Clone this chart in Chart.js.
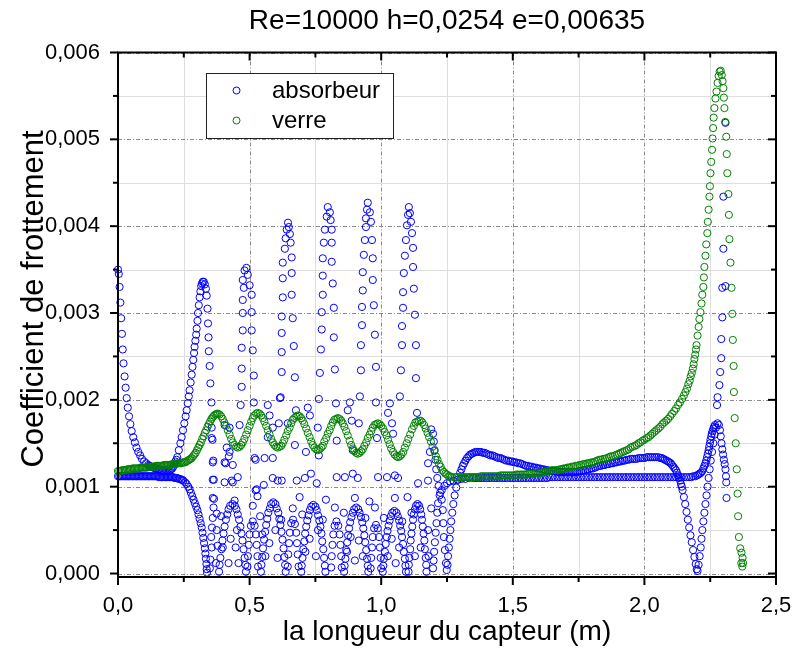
<!DOCTYPE html>
<html>
<head>
<meta charset="utf-8">
<script src="https://cdn.jsdelivr.net/npm/chart.js@4.4.1/dist/chart.umd.min.js"></script>
<style>
  html, body { margin: 0; padding: 0; background: #fff; }
  #wrap { width: 793px; height: 664px; }
</style>
</head>
<body>
<div id="wrap"><canvas id="graphe" width="793" height="664"></canvas></div>
<script>
// textes et graduations
const titre = 'Re=10000 h=0,0254 e=0,00635';
const titreX = 'la longueur du capteur (m)';
const titreY = 'Coefficient de frottement';
const xTicks = [0, 0.5, 1.0, 1.5, 2.0, 2.5];
const xMinorTicks = [0.25, 0.75, 1.25, 1.75, 2.25];
const yTicks = [0, 0.001, 0.002, 0.003, 0.004, 0.005, 0.006];
const yMinorTicks = [0.0005, 0.0015, 0.0025, 0.0035, 0.0045, 0.0055];

// absorbeur : branche haute a l'entree puis premier pic
const absEntreeHaut = [[0.000,0.00350],[0.003,0.00345],[0.006,0.00330],[0.009,0.00312],[0.012,0.00294],[0.015,0.00276],[0.018,0.00258],[0.021,0.00242],[0.025,0.00227],[0.029,0.00214],[0.033,0.00202],[0.037,0.00191],[0.042,0.00181],[0.047,0.00172],[0.052,0.00164],[0.058,0.00157],[0.064,0.00151],[0.070,0.00145],[0.077,0.00140],[0.084,0.00136],[0.091,0.00132],[0.099,0.00129],[0.107,0.00127],[0.115,0.00125],[0.124,0.00123],[0.133,0.00122],[0.142,0.00121],[0.152,0.00120],[0.162,0.00119],[0.172,0.00119],[0.182,0.00119],[0.192,0.00119],[0.202,0.00120],[0.210,0.00123],[0.218,0.00129],[0.225,0.00134],[0.231,0.00142],[0.237,0.00150],[0.242,0.00157],[0.247,0.00165],[0.252,0.00173],[0.257,0.00181],[0.261,0.00188],[0.265,0.00196],[0.269,0.00204],[0.272,0.00211],[0.276,0.00220],[0.280,0.00229],[0.283,0.00238],[0.286,0.00246],[0.289,0.00254],[0.291,0.00261],[0.294,0.00268],[0.297,0.00275],[0.299,0.00282],[0.302,0.00291],[0.304,0.00300],[0.307,0.00309],[0.310,0.00318],[0.313,0.00325],[0.316,0.00331],[0.319,0.00334],[0.322,0.00336],[0.326,0.00336],[0.330,0.00333],[0.334,0.00328],[0.337,0.00320],[0.340,0.00305],[0.342,0.00288],[0.344,0.00272],[0.345,0.00256],[0.348,0.00239],[0.351,0.00219],[0.355,0.00197],[0.359,0.00154],[0.362,0.00130],[0.364,0.00108],
  [0.120,0.00124],[0.128,0.00123],[0.137,0.00122],[0.147,0.00121],[0.157,0.00120],[0.167,0.00119],[0.177,0.00119],[0.187,0.00119],[0.197,0.00119],[0.206,0.00121],[0.214,0.00126],[0.222,0.00131]];

// absorbeur : branche basse a l'entree
const absEntreeBas = [[0.000,0.00112],[0.010,0.00112],[0.020,0.00112],[0.030,0.00112],[0.040,0.00112],[0.050,0.00112],[0.060,0.00112],[0.070,0.00112],[0.080,0.00112],[0.090,0.00112],[0.100,0.00112],[0.110,0.00112],[0.120,0.00112],[0.130,0.00112],[0.140,0.00112],[0.150,0.00112],[0.160,0.00111],[0.170,0.00111],[0.180,0.00111],[0.190,0.00111],[0.200,0.00111],[0.210,0.00111],[0.220,0.00110],[0.230,0.00109],[0.240,0.00108],[0.248,0.00107],[0.255,0.00105],[0.261,0.00103],[0.267,0.00100],[0.272,0.00097],[0.277,0.00093],[0.282,0.00089],[0.287,0.00085],[0.292,0.00081],[0.297,0.00077],[0.302,0.00073],[0.306,0.00068],[0.310,0.00063],[0.314,0.00058],[0.318,0.00053],[0.321,0.00047],[0.324,0.00041],[0.327,0.00035],[0.330,0.00029],[0.332,0.00023],[0.334,0.00017],[0.336,0.00011],[0.337,0.00005],[0.338,0.00001],
  [0.005,0.00112],[0.015,0.00112],[0.025,0.00112],[0.035,0.00112],[0.045,0.00112],[0.055,0.00112],[0.065,0.00112],[0.075,0.00112],[0.085,0.00112],[0.095,0.00112],[0.105,0.00112],[0.115,0.00112],[0.125,0.00112],[0.135,0.00112],[0.145,0.00112],[0.155,0.00111],[0.165,0.00111],[0.175,0.00111],[0.185,0.00111],[0.195,0.00111],[0.205,0.00111],[0.215,0.00110],[0.225,0.00110],[0.235,0.00109],[0.244,0.00108]];

// absorbeur : pics isoles
const absPics = [
  [0.481,0.00349],[0.474,0.00338],[0.478,0.00329],[0.474,0.00315],[0.474,0.00300],[0.474,0.00280],[0.470,0.00260],[0.470,0.00236],[0.470,0.00215],[0.466,0.00194],[0.462,0.00171],[0.488,0.00352],[0.493,0.00344],[0.500,0.00332],[0.508,0.00321],[0.508,0.00301],[0.508,0.00280],[0.512,0.00257],[0.516,0.00228],[0.516,0.00197],[0.523,0.00131],[0.527,0.00097],
  [0.646,0.00404],[0.641,0.00396],[0.637,0.00386],[0.634,0.00374],[0.626,0.00358],[0.626,0.00340],[0.626,0.00318],[0.622,0.00296],[0.622,0.00277],[0.622,0.00255],[0.622,0.00232],[0.618,0.00203],[0.649,0.00399],[0.653,0.00391],[0.656,0.00381],[0.660,0.00364],[0.660,0.00346],[0.660,0.00321],[0.664,0.00294],[0.668,0.00262],[0.672,0.00226],[0.676,0.00188],
  [0.797,0.00422],[0.793,0.00411],[0.786,0.00396],[0.782,0.00381],[0.778,0.00363],[0.778,0.00343],[0.778,0.00321],[0.774,0.00301],[0.774,0.00281],[0.771,0.00258],[0.767,0.00231],[0.763,0.00201],[0.805,0.00416],[0.808,0.00407],[0.812,0.00396],[0.812,0.00381],[0.812,0.00359],[0.816,0.00334],[0.820,0.00306],[0.820,0.00272],[0.824,0.00235],[0.828,0.00196],
  [0.949,0.00427],[0.946,0.00419],[0.942,0.00409],[0.942,0.00399],[0.938,0.00384],[0.934,0.00367],[0.930,0.00347],[0.930,0.00326],[0.927,0.00307],[0.927,0.00286],[0.923,0.00263],[0.923,0.00234],[0.919,0.00204],[0.957,0.00416],[0.961,0.00405],[0.965,0.00384],[0.968,0.00363],[0.968,0.00338],[0.972,0.00309],[0.976,0.00275],[0.980,0.00238],[0.980,0.00197],
  [1.105,0.00422],[1.102,0.00413],[1.098,0.00401],[1.094,0.00384],[1.090,0.00366],[1.086,0.00346],[1.083,0.00324],[1.083,0.00306],[1.079,0.00285],[1.079,0.00263],[1.075,0.00234],[1.071,0.00204],[1.109,0.00415],[1.113,0.00405],[1.117,0.00392],[1.121,0.00375],[1.121,0.00353],[1.124,0.00328],[1.128,0.00298],[1.132,0.00263],[1.132,0.00225],[1.136,0.00185]
];

// absorbeur : points disperses entre 0,0008 et 0,002
const absDisperses = [[0.356,0.00168],[0.356,0.00156],[0.360,0.00128],[0.360,0.00108],[0.409,0.00127],[0.405,0.00105],[0.436,0.00105],[0.436,0.00125],[0.424,0.00140],[0.424,0.00168],[0.405,0.00171],[0.413,0.00145],[0.405,0.00128],[0.421,0.00135],[0.432,0.00107],[0.455,0.00111],[0.519,0.00133],[0.523,0.00096],[0.554,0.00102],[0.557,0.00133],[0.569,0.00194],[0.576,0.00182],[0.588,0.00168],[0.569,0.00157],[0.588,0.00110],[0.607,0.00107],[0.611,0.00173],[0.615,0.00202],[0.645,0.00173],[0.672,0.00148],[0.588,0.00133],[0.622,0.00107],[0.679,0.00107],[0.710,0.00110],[0.714,0.00140],[0.729,0.00182],[0.721,0.00191],[0.733,0.00115],[0.755,0.00104],[0.759,0.00168],[0.763,0.00136],[0.831,0.00153],[0.831,0.00111],[0.862,0.00111],[0.881,0.00197],[0.873,0.00188],[0.888,0.00176],[0.892,0.00142],[0.892,0.00115],[0.911,0.00110],[0.915,0.00173],[0.984,0.00156],[0.988,0.00111],[1.022,0.00111],[1.033,0.00196],[1.026,0.00185],[1.041,0.00173],[1.045,0.00161],[1.052,0.00113],[1.064,0.00110],[1.140,0.00104],[1.178,0.00107],[1.178,0.00127],[1.185,0.00140]];

// absorbeur : arches et points proches de zero
const absArches = [
  [0.435,0.00080],[0.426,0.00078],[0.420,0.00074],[0.415,0.00068],[0.410,0.00062],[0.405,0.00054],[0.401,0.00046],[0.397,0.00038],[0.393,0.00028],[0.389,0.00018],[0.386,0.00010],[0.384,0.00002],[0.444,0.00078],[0.450,0.00074],[0.455,0.00068],[0.460,0.00062],[0.465,0.00054],[0.469,0.00046],[0.473,0.00038],[0.477,0.00028],[0.481,0.00018],[0.484,0.00010],[0.486,0.00002],
  [0.590,0.00082],[0.582,0.00080],[0.577,0.00075],[0.571,0.00070],[0.567,0.00063],[0.563,0.00056],[0.559,0.00048],[0.555,0.00039],[0.551,0.00029],[0.548,0.00019],[0.545,0.00010],[0.543,0.00002],[0.598,0.00080],[0.603,0.00075],[0.609,0.00070],[0.613,0.00063],[0.617,0.00056],[0.621,0.00048],[0.625,0.00039],[0.629,0.00029],[0.632,0.00019],[0.635,0.00010],[0.637,0.00002],
  [0.742,0.00079],[0.734,0.00077],[0.729,0.00073],[0.724,0.00067],[0.719,0.00061],[0.715,0.00054],[0.711,0.00046],[0.708,0.00037],[0.704,0.00028],[0.701,0.00018],[0.698,0.00009],[0.696,0.00002],[0.750,0.00077],[0.755,0.00073],[0.760,0.00067],[0.765,0.00061],[0.769,0.00054],[0.773,0.00046],[0.776,0.00037],[0.780,0.00028],[0.783,0.00018],[0.786,0.00009],[0.788,0.00002],
  [0.905,0.00076],[0.897,0.00074],[0.892,0.00070],[0.887,0.00065],[0.882,0.00059],[0.878,0.00052],[0.874,0.00044],[0.871,0.00036],[0.867,0.00027],[0.864,0.00017],[0.861,0.00009],[0.859,0.00002],[0.913,0.00074],[0.918,0.00070],[0.923,0.00065],[0.928,0.00059],[0.932,0.00052],[0.936,0.00044],[0.939,0.00036],[0.943,0.00027],[0.946,0.00017],[0.949,0.00009],[0.951,0.00002],
  [1.050,0.00072],[1.042,0.00070],[1.037,0.00066],[1.032,0.00061],[1.028,0.00055],[1.024,0.00049],[1.021,0.00042],[1.017,0.00034],[1.014,0.00025],[1.010,0.00017],[1.008,0.00009],[1.006,0.00002],[1.058,0.00070],[1.063,0.00066],[1.068,0.00061],[1.072,0.00055],[1.076,0.00049],[1.079,0.00042],[1.083,0.00034],[1.086,0.00025],[1.090,0.00017],[1.092,0.00009],[1.094,0.00002],
  [1.138,0.00080],[1.132,0.00078],[1.128,0.00074],[1.124,0.00068],[1.121,0.00062],[1.118,0.00054],[1.115,0.00046],[1.112,0.00038],[1.110,0.00028],[1.107,0.00018],[1.105,0.00010],[1.104,0.00002],[1.144,0.00078],[1.148,0.00074],[1.152,0.00068],[1.155,0.00062],[1.158,0.00054],[1.161,0.00046],[1.164,0.00038],[1.166,0.00028],[1.169,0.00018],[1.171,0.00010],[1.172,0.00002],
  [0.505,0.00055],[0.500,0.00045],[0.497,0.00033],[0.494,0.00020],[0.492,0.00008],[0.512,0.00060],[0.519,0.00055],[0.524,0.00045],[0.527,0.00033],[0.530,0.00020],[0.532,0.00008],
  [0.658,0.00058],[0.653,0.00047],[0.650,0.00035],[0.647,0.00022],[0.645,0.00008],[0.665,0.00062],[0.672,0.00057],[0.677,0.00047],[0.680,0.00035],[0.683,0.00022],[0.686,0.00008],
  [0.823,0.00055],[0.818,0.00045],[0.815,0.00033],[0.812,0.00020],[0.810,0.00007],[0.830,0.00060],[0.837,0.00055],[0.842,0.00045],[0.845,0.00033],[0.848,0.00020],[0.850,0.00007],
  [0.973,0.00052],[0.968,0.00042],[0.965,0.00030],[0.962,0.00018],[0.960,0.00006],[0.980,0.00056],[0.987,0.00052],[0.992,0.00042],[0.995,0.00030],[0.998,0.00018],[1.000,0.00006],
  [0.365,0.00086],[0.363,0.00076],[0.360,0.00064],[0.357,0.00053],[0.354,0.00042],[0.356,0.00030],[0.351,0.00016],[0.349,0.00006],[0.375,0.00069],[0.375,0.00050],[0.378,0.00032],[0.372,0.00012],
  [0.360,0.00087],[0.443,0.00084],[0.512,0.00078],[0.664,0.00075],[0.824,0.00076],[0.900,0.00087],[0.976,0.00076],[1.052,0.00087],[0.530,0.00089],[0.690,0.00088],[0.790,0.00085],[0.955,0.00083],[1.100,0.00088]
];

// absorbeur : autres points du nuage bas
const absFond = [[0.392,0.00066],[0.398,0.00030],[0.420,0.00012],[0.428,0.00040],[0.447,0.00030],[0.458,0.00012],[0.452,0.00050],
  [0.540,0.00066],[0.548,0.00045],[0.560,0.00020],[0.575,0.00035],[0.598,0.00050],[0.606,0.00018],[0.620,0.00062],
  [0.700,0.00068],[0.712,0.00025],[0.728,0.00040],[0.752,0.00020],[0.760,0.00050],[0.778,0.00062],
  [0.858,0.00070],[0.870,0.00025],[0.884,0.00042],[0.900,0.00015],[0.915,0.00038],[0.930,0.00020],[0.940,0.00064],
  [1.010,0.00064],[1.025,0.00020],[1.040,0.00040],[1.055,0.00012],[1.068,0.00030],[1.080,0.00060],
  [1.115,0.00070],[1.128,0.00020],[1.150,0.00030],[1.178,0.00050],[1.180,0.00020],[1.190,0.00075]];

// absorbeur : sortie de la zone perturbee
const absTransition = [[1.190,0.00166],[1.197,0.00161],[1.200,0.00152],[1.203,0.00142],[1.206,0.00131],[1.209,0.00120],[1.213,0.00110],[1.218,0.00101],[1.224,0.00093],[1.230,0.00085],[1.234,0.00073],[1.236,0.00058],[1.238,0.00042],[1.242,0.00027],[1.246,0.00012],[1.249,0.00004],
  [1.197,0.00006],[1.199,0.00015],[1.201,0.00025],[1.204,0.00036],[1.207,0.00047],[1.210,0.00058],[1.213,0.00070],[1.216,0.00081],[1.222,0.00090],[1.230,0.00096],[1.240,0.00101],[1.250,0.00104],[1.262,0.00106]];

// absorbeur : courbe haute apres 1,25 m
const absCourbeHaute = [[1.252,0.00010],[1.254,0.00020],[1.257,0.00030],[1.260,0.00040],[1.263,0.00050],[1.266,0.00060],[1.270,0.00070],[1.274,0.00080],[1.279,0.00090],[1.285,0.00099],[1.292,0.00108],[1.300,0.00116],[1.310,0.00124],[1.320,0.00130],[1.332,0.00135],[1.345,0.00138],[1.358,0.00140],[1.372,0.00140],[1.386,0.00139],[1.400,0.00138],[1.415,0.00136],[1.430,0.00135],[1.445,0.00133],[1.460,0.00132],[1.475,0.00130],[1.490,0.00129],[1.505,0.00128],[1.520,0.00127],[1.535,0.00126],[1.550,0.00124],[1.565,0.00123],[1.580,0.00122],[1.595,0.00121],[1.610,0.00120],[1.625,0.00119],[1.640,0.00118],[1.655,0.00118],[1.670,0.00117],[1.685,0.00117],[1.700,0.00117],[1.715,0.00117],[1.730,0.00117],[1.745,0.00117],[1.760,0.00118],[1.775,0.00119],[1.790,0.00120],[1.805,0.00121],[1.820,0.00123],[1.835,0.00124],[1.850,0.00125],[1.865,0.00126],[1.880,0.00127],[1.895,0.00128],[1.910,0.00129],[1.925,0.00130],[1.940,0.00131],[1.955,0.00132],[1.970,0.00132],[1.985,0.00133],[2.000,0.00133],[2.015,0.00134],[2.030,0.00134],[2.045,0.00134],[2.060,0.00133],[2.072,0.00132],[2.084,0.00130],[2.095,0.00128],[2.105,0.00125],[2.115,0.00121],[2.124,0.00116],[2.132,0.00110],[2.139,0.00103],[2.145,0.00096],[2.150,0.00088],[2.155,0.00080],[2.160,0.00071],[2.165,0.00062],[2.170,0.00053],[2.175,0.00044],[2.180,0.00036],[2.185,0.00027],[2.190,0.00019],[2.195,0.00011],[2.199,0.00005],[2.202,0.00003],[2.206,0.00010],[2.210,0.00020],[2.214,0.00030],[2.217,0.00040],[2.220,0.00050],[2.224,0.00060],[2.228,0.00070],[2.232,0.00080],[2.236,0.00090],[2.240,0.00100],[2.244,0.00110],[2.248,0.00120],[2.252,0.00130],[2.257,0.00140],[2.262,0.00150],[2.267,0.00160],[2.272,0.00168],[2.278,0.00173],[2.283,0.00171],[2.287,0.00165],[2.290,0.00158],[2.293,0.00150],[2.296,0.00143],[2.299,0.00137],[2.302,0.00131],[2.305,0.00126],[2.308,0.00120],[2.310,0.00112],[2.311,0.00105],[2.312,0.00087],
  [1.305,0.00120],[1.315,0.00127],[1.326,0.00133],[1.338,0.00137],[1.351,0.00139],[1.365,0.00140],[1.379,0.00140],[1.393,0.00139],[1.408,0.00137],[1.423,0.00136],[1.438,0.00134],[1.453,0.00133],[1.468,0.00131],[1.483,0.00130],[1.498,0.00129],[1.513,0.00128],[1.528,0.00127],[1.543,0.00125],[1.558,0.00124],[1.573,0.00123],[1.588,0.00122],[1.603,0.00121],[1.618,0.00120],[1.633,0.00119],[1.648,0.00118],[1.663,0.00118],[1.678,0.00117],[1.693,0.00117],[1.708,0.00117],[1.723,0.00117],[1.738,0.00117],[1.753,0.00118],[1.768,0.00119],[1.783,0.00120],[1.798,0.00121],[1.813,0.00122],[1.828,0.00124],[1.843,0.00125],[1.858,0.00126],[1.873,0.00127],[1.888,0.00128],[1.903,0.00129],[1.918,0.00130],[1.933,0.00131],[1.948,0.00132],[1.963,0.00132],[1.978,0.00133],[1.993,0.00133],[2.008,0.00134],[2.023,0.00134],[2.038,0.00134],[2.053,0.00134],[2.066,0.00133],[2.078,0.00131],[2.090,0.00129],[2.100,0.00127],[2.110,0.00123],[2.120,0.00119],[2.128,0.00113],[2.136,0.00107],[2.142,0.00100]];

// absorbeur : courbe basse apres 1,25 m
const absCourbeBasse = [[1.275,0.00107],[1.290,0.00108],[1.305,0.00109],[1.320,0.00109],[1.335,0.00110],[1.350,0.00110],[1.370,0.00110],[1.390,0.00110],[1.410,0.00110],[1.430,0.00110],[1.450,0.00110],[1.470,0.00110],[1.490,0.00110],[1.510,0.00110],[1.530,0.00110],[1.550,0.00110],[1.570,0.00110],[1.590,0.00110],[1.610,0.00110],[1.630,0.00110],[1.650,0.00111],[1.670,0.00111],[1.690,0.00111],[1.710,0.00111],[1.730,0.00111],[1.750,0.00111],[1.770,0.00111],[1.790,0.00111],[1.810,0.00111],[1.830,0.00111],[1.850,0.00111],[1.870,0.00111],[1.890,0.00111],[1.910,0.00111],[1.930,0.00111],[1.950,0.00111],[1.970,0.00111],[1.990,0.00111],[2.010,0.00111],[2.030,0.00111],[2.050,0.00111],[2.070,0.00111],[2.090,0.00111],[2.110,0.00111],[2.130,0.00111],[2.150,0.00111],[2.170,0.00111],[2.185,0.00112],[2.200,0.00113],[2.210,0.00115],[2.220,0.00118],[2.228,0.00124],[2.235,0.00130],[2.241,0.00138],[2.246,0.00146],[2.251,0.00154],[2.256,0.00161],[2.262,0.00167],[2.268,0.00171],
  [1.360,0.00110],[1.380,0.00110],[1.400,0.00110],[1.420,0.00110],[1.440,0.00110],[1.460,0.00110],[1.480,0.00110],[1.500,0.00110],[1.520,0.00110],[1.540,0.00110],[1.560,0.00110],[1.580,0.00110],[1.600,0.00110],[1.620,0.00110],[1.640,0.00111],[1.660,0.00111],[1.680,0.00111],[1.700,0.00111],[1.720,0.00111],[1.740,0.00111],[1.760,0.00111],[1.780,0.00111],[1.800,0.00111],[1.820,0.00111],[1.840,0.00111],[1.860,0.00111],[1.880,0.00111],[1.900,0.00111],[1.920,0.00111],[1.940,0.00111],[1.960,0.00111],[1.980,0.00111],[2.000,0.00111],[2.020,0.00111],[2.040,0.00111],[2.060,0.00111],[2.080,0.00111],[2.100,0.00111],[2.120,0.00111],[2.140,0.00111],[2.160,0.00111],[2.178,0.00111],[2.193,0.00112],[2.205,0.00114],[2.215,0.00116],[2.224,0.00121],[2.232,0.00127],[2.238,0.00134],[2.244,0.00142],[2.249,0.00150],[2.254,0.00158],[2.259,0.00164],[2.265,0.00169]];

// absorbeur : points isoles pres de 2,3 m
const absSortieHaute = [[2.308,0.00519],[2.300,0.00434],[2.300,0.00374],[2.296,0.00329],[2.308,0.00331],[2.296,0.00295],[2.292,0.00270],[2.292,0.00248],[2.288,0.00232],[2.285,0.00217],[2.278,0.00203],[2.276,0.00194]];

// verre
const verreEntree = [[0.000,0.00118],[0.010,0.00118],[0.020,0.00119],[0.030,0.00119],[0.040,0.00120],[0.050,0.00120],[0.060,0.00121],[0.070,0.00121],[0.080,0.00121],[0.090,0.00122],[0.100,0.00122],[0.110,0.00122],[0.120,0.00123],[0.130,0.00123],[0.140,0.00123],[0.150,0.00124],[0.160,0.00124],[0.170,0.00124],[0.180,0.00125],[0.190,0.00125],[0.200,0.00125],[0.210,0.00126],[0.220,0.00126],[0.230,0.00127],[0.240,0.00127],[0.250,0.00128],[0.260,0.00129],[0.270,0.00131],[0.280,0.00133],[0.290,0.00137],[0.300,0.00142],[0.310,0.00148],[0.320,0.00155],[0.330,0.00162],[0.340,0.00169],[0.350,0.00175],[0.360,0.00180],[0.370,0.00183],
  [0.005,0.00118],[0.015,0.00119],[0.025,0.00119],[0.035,0.00120],[0.045,0.00120],[0.055,0.00121],[0.065,0.00121],[0.075,0.00121],[0.085,0.00122],[0.095,0.00122],[0.105,0.00122],[0.115,0.00123],[0.125,0.00123],[0.135,0.00123],[0.145,0.00124],[0.155,0.00124],[0.165,0.00124],[0.175,0.00125],[0.185,0.00125],[0.195,0.00125],[0.205,0.00126],[0.215,0.00126],[0.225,0.00127],[0.235,0.00127],[0.245,0.00128],[0.255,0.00128],[0.265,0.00130],[0.275,0.00132],[0.285,0.00135],[0.295,0.00139],[0.305,0.00145],[0.315,0.00151],[0.325,0.00158],[0.335,0.00165],[0.345,0.00172],[0.355,0.00178],[0.365,0.00182],[0.375,0.00184]];
const verreOndulations = [[0.379,0.00184],[0.392,0.00181],[0.404,0.00174],[0.417,0.00165],[0.430,0.00155],[0.442,0.00148],[0.455,0.00145],[0.468,0.00148],[0.480,0.00155],[0.493,0.00165],[0.506,0.00175],[0.518,0.00182],[0.531,0.00185],[0.544,0.00182],[0.556,0.00175],[0.569,0.00165],[0.582,0.00155],[0.594,0.00148],[0.607,0.00145],[0.620,0.00147],[0.632,0.00154],[0.645,0.00164],[0.658,0.00173],[0.670,0.00179],[0.683,0.00182],[0.696,0.00179],[0.708,0.00172],[0.721,0.00162],[0.734,0.00152],[0.746,0.00145],[0.759,0.00142],[0.772,0.00145],[0.784,0.00152],[0.797,0.00161],[0.810,0.00170],[0.822,0.00177],[0.835,0.00179],[0.848,0.00176],[0.860,0.00169],[0.873,0.00159],[0.886,0.00148],[0.898,0.00141],[0.911,0.00138],[0.924,0.00141],[0.936,0.00147],[0.949,0.00156],[0.962,0.00164],[0.974,0.00171],[0.987,0.00173],[1.000,0.00170],[1.013,0.00163],[1.026,0.00154],[1.038,0.00144],[1.051,0.00137],[1.064,0.00134],[1.077,0.00137],[1.090,0.00145],[1.103,0.00155],[1.117,0.00166],[1.130,0.00174],[1.143,0.00176],[1.156,0.00174],[1.169,0.00167],[1.182,0.00157],[1.195,0.00146],[1.208,0.00135],[1.220,0.00126],[1.232,0.00119],[1.244,0.00115],[1.256,0.00112],[1.268,0.00111],
  [0.386,0.00183],[0.398,0.00178],[0.411,0.00170],[0.424,0.00160],[0.436,0.00151],[0.449,0.00146],[0.462,0.00146],[0.474,0.00151],[0.487,0.00160],[0.500,0.00170],[0.512,0.00179],[0.525,0.00184],[0.538,0.00184],[0.550,0.00179],[0.563,0.00170],[0.576,0.00160],[0.588,0.00151],[0.601,0.00146],[0.614,0.00146],[0.626,0.00150],[0.639,0.00159],[0.652,0.00168],[0.664,0.00177],[0.677,0.00181],[0.690,0.00181],[0.702,0.00176],[0.715,0.00167],[0.728,0.00157],[0.740,0.00148],[0.753,0.00143],[0.766,0.00143],[0.778,0.00147],[0.791,0.00156],[0.804,0.00165],[0.816,0.00174],[0.829,0.00178],[0.842,0.00178],[0.854,0.00173],[0.867,0.00164],[0.880,0.00153],[0.892,0.00144],[0.905,0.00139],[0.918,0.00139],[0.930,0.00143],[0.943,0.00151],[0.956,0.00160],[0.968,0.00168],[0.981,0.00172],[0.994,0.00172],[1.007,0.00167],[1.020,0.00159],[1.032,0.00149],[1.045,0.00140],[1.058,0.00135],[1.071,0.00135],[1.084,0.00140],[1.097,0.00150],[1.110,0.00160],[1.124,0.00170],[1.137,0.00175],[1.150,0.00176],[1.163,0.00171],[1.176,0.00162],[1.189,0.00152],[1.202,0.00141],[1.214,0.00131],[1.226,0.00123],[1.238,0.00117],[1.250,0.00114],[1.262,0.00112]];
const verreSortie = [[1.280,0.00111],[1.295,0.00111],[1.310,0.00111],[1.325,0.00111],[1.340,0.00111],[1.355,0.00111],[1.370,0.00111],[1.385,0.00112],[1.400,0.00112],[1.415,0.00112],[1.430,0.00112],[1.445,0.00112],[1.460,0.00113],[1.475,0.00113],[1.490,0.00113],[1.505,0.00113],[1.520,0.00114],[1.535,0.00114],[1.550,0.00114],[1.565,0.00115],[1.580,0.00115],[1.595,0.00116],[1.610,0.00116],[1.625,0.00117],[1.640,0.00118],[1.655,0.00119],[1.670,0.00119],[1.685,0.00120],[1.700,0.00121],[1.715,0.00122],[1.730,0.00123],[1.745,0.00124],[1.760,0.00125],[1.775,0.00126],[1.790,0.00127],[1.805,0.00128],[1.820,0.00130],[1.835,0.00131],[1.850,0.00132],[1.865,0.00134],[1.880,0.00135],[1.895,0.00137],[1.910,0.00139],[1.925,0.00141],[1.940,0.00143],[1.955,0.00146],[1.970,0.00148],[1.985,0.00151],[2.000,0.00154],[2.015,0.00157],[2.030,0.00161],[2.045,0.00165],[2.060,0.00169],[2.075,0.00174],[2.090,0.00178],[2.105,0.00184],[2.120,0.00190],[2.135,0.00197],[2.150,0.00205],[2.162,0.00213],[2.172,0.00222],[2.180,0.00231],[2.187,0.00241],[2.193,0.00252],[2.198,0.00263],[2.202,0.00274],[2.206,0.00284],[2.209,0.00293],[2.213,0.00301],[2.217,0.00311],[2.220,0.00321],[2.224,0.00330],[2.226,0.00341],[2.228,0.00353],[2.232,0.00366],[2.235,0.00379],[2.239,0.00392],[2.241,0.00405],[2.244,0.00419],[2.247,0.00434],[2.249,0.00446],[2.251,0.00461],[2.254,0.00474],[2.257,0.00488],[2.259,0.00501],[2.261,0.00513],[2.263,0.00525],[2.266,0.00536],[2.270,0.00547],[2.274,0.00555],[2.278,0.00565],[2.282,0.00573],[2.286,0.00578],[2.290,0.00579],[2.294,0.00574],[2.297,0.00567],[2.300,0.00559],[2.302,0.00548],[2.304,0.00536],[2.307,0.00520],[2.311,0.00503],[2.313,0.00483],[2.315,0.00461],[2.319,0.00437],[2.321,0.00413],[2.323,0.00385],[2.327,0.00358],[2.331,0.00329],[2.334,0.00299],[2.336,0.00269],[2.339,0.00239],[2.340,0.00209],[2.343,0.00179],[2.347,0.00150],[2.351,0.00120],[2.354,0.00092],[2.356,0.00066],[2.359,0.00042],[2.364,0.00029],[2.369,0.00024],[2.373,0.00018],[2.368,0.00012],[2.372,0.00008],[2.375,0.00012],
  [1.288,0.00111],[1.303,0.00111],[1.318,0.00111],[1.333,0.00111],[1.348,0.00111],[1.363,0.00111],[1.378,0.00112],[1.393,0.00112],[1.408,0.00112],[1.423,0.00112],[1.438,0.00112],[1.453,0.00113],[1.468,0.00113],[1.483,0.00113],[1.498,0.00113],[1.513,0.00114],[1.528,0.00114],[1.543,0.00114],[1.558,0.00115],[1.573,0.00115],[1.588,0.00116],[1.603,0.00116],[1.618,0.00117],[1.633,0.00118],[1.648,0.00119],[1.663,0.00119],[1.678,0.00120],[1.693,0.00121],[1.708,0.00122],[1.723,0.00123],[1.738,0.00124],[1.753,0.00125],[1.768,0.00126],[1.783,0.00127],[1.798,0.00128],[1.813,0.00129],[1.828,0.00131],[1.843,0.00132],[1.858,0.00133],[1.873,0.00135],[1.888,0.00136],[1.903,0.00138],[1.918,0.00140],[1.933,0.00142],[1.948,0.00145],[1.963,0.00147],[1.978,0.00150],[1.993,0.00153],[2.008,0.00156],[2.023,0.00159],[2.038,0.00163],[2.053,0.00167],[2.068,0.00172],[2.083,0.00176],[2.098,0.00181],[2.113,0.00187],[2.128,0.00194],[2.143,0.00201],[2.156,0.00209],[2.167,0.00218],[2.176,0.00227],[2.184,0.00236],[2.190,0.00247],[2.196,0.00258]];

const absorbeur = [].concat(absEntreeHaut, absEntreeBas, absPics, absDisperses, absArches, absFond, absTransition, absCourbeHaute, absCourbeBasse, absSortieHaute);
const verre = [].concat(verreEntree, verreOndulations, verreSortie);

const police = 'Liberation Sans, Arial, Helvetica, sans-serif';
const virgule = (v, n) => v.toFixed(n).replace('.', ',');

function trait(ctx, x1, y1, x2, y2) {
  ctx.beginPath();
  ctx.moveTo(x1, y1);
  ctx.lineTo(x2, y2);
  ctx.stroke();
}

// grille, cadre, graduations, legende et titre de l'axe y
const cadre = {
  id: 'cadre',
  beforeDatasetsDraw(chart) {
    const {ctx, chartArea: a, scales: {x, y}} = chart;
    ctx.save();
    ctx.lineWidth = 1;
    ctx.strokeStyle = '#dedede';
    xMinorTicks.forEach(v => { const p = Math.round(x.getPixelForValue(v)) + 0.5; trait(ctx, p, a.top, p, a.bottom); });
    yMinorTicks.forEach(v => { const p = Math.round(y.getPixelForValue(v)) + 0.5; trait(ctx, a.left, p, a.right, p); });
    ctx.strokeStyle = '#8a8a8a';
    ctx.setLineDash([4, 2, 1, 2]);
    xTicks.forEach(v => { const p = Math.round(x.getPixelForValue(v)) + 0.5; trait(ctx, p, a.top, p, a.bottom); });
    yTicks.forEach(v => { const p = Math.round(y.getPixelForValue(v)) + 0.5; trait(ctx, a.left, p, a.right, p); });
    ctx.restore();
  },
  afterDraw(chart) {
    const {ctx, chartArea: a, scales: {x, y}} = chart;
    ctx.save();
    ctx.strokeStyle = '#000';
    ctx.lineWidth = 2;
    ctx.strokeRect(a.left, a.top, a.right - a.left, a.bottom - a.top);
    xTicks.forEach(v => {
      const p = x.getPixelForValue(v);
      trait(ctx, p, a.bottom, p, a.bottom + 8);
      trait(ctx, p, a.top, p, a.top + 8);
    });
    xMinorTicks.forEach(v => {
      const p = x.getPixelForValue(v);
      trait(ctx, p, a.bottom, p, a.bottom + 5);
      trait(ctx, p, a.top, p, a.top + 5);
    });
    yTicks.forEach(v => {
      const p = y.getPixelForValue(v);
      trait(ctx, a.left - 8, p, a.left, p);
      trait(ctx, a.right - 8, p, a.right, p);
    });
    yMinorTicks.forEach(v => {
      const p = y.getPixelForValue(v);
      trait(ctx, a.left - 5, p, a.left, p);
      trait(ctx, a.right - 5, p, a.right, p);
    });

    // titre vertical
    ctx.fillStyle = '#000';
    ctx.font = '31px ' + police;
    ctx.textAlign = 'center';
    ctx.textBaseline = 'middle';
    ctx.translate(34, 299);
    ctx.rotate(-Math.PI / 2);
    ctx.fillText(titreY, 0, 0);
    ctx.restore();

    // legende
    ctx.save();
    ctx.fillStyle = '#fff';
    ctx.fillRect(206, 73, 187, 65);
    ctx.lineWidth = 1;
    ctx.strokeStyle = '#222';
    ctx.strokeRect(206.5, 73.5, 187, 65);
    ctx.font = '24px ' + police;
    ctx.textBaseline = 'middle';
    chart.data.datasets.forEach((ds, i) => {
      const yy = 90.5 + i * 30;
      ctx.strokeStyle = ds.borderColor;
      ctx.beginPath();
      ctx.arc(236.5, yy, 3.5, 0, Math.PI * 2);
      ctx.stroke();
      ctx.fillStyle = '#000';
      ctx.fillText(ds.label, 272, yy + 1);
    });
    ctx.restore();
  }
};

new Chart(document.getElementById('graphe'), {
  type: 'scatter',
  data: {
    datasets: [
      { label: 'absorbeur', data: absorbeur, borderColor: '#0000ff', backgroundColor: 'rgba(0,0,0,0)',
        pointRadius: 3.6, pointBorderWidth: 1, order: 1, clip: 8 },
      { label: 'verre', data: verre, borderColor: '#008000', backgroundColor: 'rgba(0,0,0,0)',
        pointRadius: 3.6, pointBorderWidth: 1, order: 0, clip: 8 }
    ]
  },
  options: {
    responsive: false,
    animation: false,
    devicePixelRatio: 1,
    events: [],
    layout: { padding: { left: 0, right: 17, top: 0, bottom: 0 } },
    plugins: {
      legend: { display: false },
      tooltip: { enabled: false },
      title: {
        display: true, text: titre, fullSize: false, color: '#000',
        font: { family: police, size: 28, weight: 'normal', lineHeight: 1 },
        padding: { top: 7, bottom: 17.5 }
      }
    },
    scales: {
      x: {
        type: 'linear', position: 'bottom', min: 0, max: 2.5,
        afterBuildTicks: s => { s.ticks = xTicks.map(v => ({ value: v })); },
        afterFit: s => { s.height = 87; s.paddingLeft = 0; s.paddingRight = 0; },
        grid: { display: false }, border: { display: false },
        ticks: { color: '#000', padding: 8, maxRotation: 0, font: { family: police, size: 22 },
                 callback: v => virgule(v, 1) },
        title: { display: true, text: titreX, color: '#000', font: { family: police, size: 28 },
                 padding: { top: 0, bottom: 15 } }
      },
      y: {
        type: 'linear', position: 'left', min: -0.00004, max: 0.006,
        afterBuildTicks: s => { s.ticks = yTicks.map(v => ({ value: v })); },
        afterFit: s => { s.width = 118; s.paddingTop = 0; s.paddingBottom = 0; },
        grid: { display: false }, border: { display: false },
        ticks: { color: '#000', padding: 10, font: { family: police, size: 22 },
                 callback: v => virgule(v, 3) }
      }
    }
  },
  plugins: [cadre]
});
</script>
</body>
</html>
